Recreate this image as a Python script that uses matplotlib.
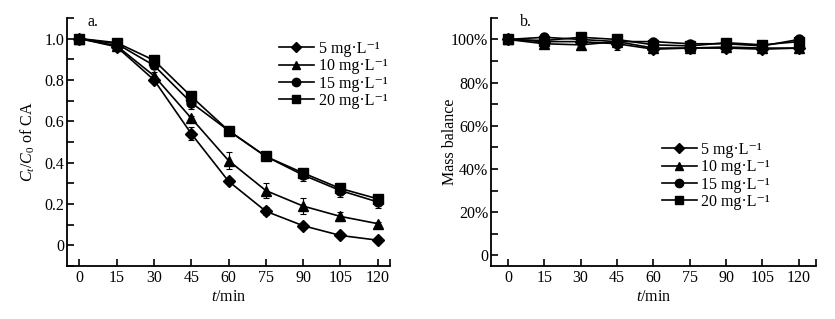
import matplotlib
matplotlib.use("Agg")
import matplotlib.pyplot as plt
from matplotlib.lines import Line2D

plt.rcParams['font.family'] = ['Liberation Serif', 'DejaVu Serif']
plt.rcParams['mathtext.fontset'] = 'custom'
plt.rcParams['mathtext.rm'] = 'Liberation Serif'
plt.rcParams['mathtext.it'] = 'Liberation Serif:italic'

t = [0, 15, 30, 45, 60, 75, 90, 105, 120]
labels = ["5 mg·L⁻¹", "10 mg·L⁻¹", "15 mg·L⁻¹", "20 mg·L⁻¹"]
markers = ['D', '^', 'o', 's']

# Panel a: Ct/C0
ca_5 = [1.0, 0.96, 0.80, 0.54, 0.31, 0.165, 0.095, 0.048, 0.025]
ca_10 = [1.0, 0.965, 0.82, 0.615, 0.41, 0.265, 0.19, 0.14, 0.105]
ca_15 = [1.0, 0.975, 0.87, 0.69, 0.555, 0.43, 0.34, 0.265, 0.21]
ca_20 = [1.0, 0.98, 0.895, 0.72, 0.555, 0.43, 0.35, 0.275, 0.225]
ca_err_5 = [0.005, 0.005, 0.01, 0.03, 0.01, 0.02, 0.01, 0.008, 0.008]
ca_err_10 = [0.005, 0.01, 0.02, 0.01, 0.04, 0.035, 0.04, 0.02, 0.01]
ca_err_15 = [0.005, 0.01, 0.015, 0.03, 0.01, 0.01, 0.03, 0.03, 0.03]
ca_err_20 = [0.005, 0.01, 0.01, 0.015, 0.01, 0.01, 0.02, 0.02, 0.02]

# Panel b: mass balance (%)
mb_5 = [100, 99, 99, 98, 95.5, 96, 96, 95.5, 96]
mb_10 = [100, 98, 97.5, 99, 96, 96, 96.5, 96, 96]
mb_15 = [100, 101, 100, 99, 99, 98, 98, 97, 100]
mb_20 = [100, 99.5, 101, 100, 97.5, 97, 98.5, 97.5, 99]
mb_err_5 = [0.5, 0.8, 1, 3, 0.8, 0.8, 0.8, 0.8, 0.8]
mb_err_10 = [0.5, 0.8, 2, 1, 0.8, 0.8, 0.8, 0.8, 0.8]
mb_err_15 = [0.5, 0.8, 1, 1, 0.8, 0.8, 0.8, 1, 0.8]
mb_err_20 = [0.5, 0.8, 1, 1, 0.8, 0.8, 0.8, 1, 0.8]

FS = 11.5

fig = plt.figure(figsize=(8.35, 3.19), dpi=100)
ax1 = fig.add_axes([0.0802, 0.166, 0.387, 0.778])
ax2 = fig.add_axes([0.588, 0.166, 0.389, 0.778])

def style(ax, xlim):
    ax.spines['top'].set_visible(False)
    ax.spines['right'].set_visible(False)
    for s in ['left', 'bottom']:
        ax.spines[s].set_linewidth(1.3)
    ax.set_xlim(*xlim)
    ax.set_xticks(t)
    ax.set_xticks([xlim[1]], minor=True)
    ax.tick_params(axis='x', direction='in', length=5, width=1.2, labelsize=FS, pad=3)
    ax.tick_params(axis='x', which='minor', direction='in', length=5, width=1.2)
    ax.tick_params(axis='y', direction='in', length=5, width=1.2, labelsize=FS, pad=2)
    ax.tick_params(axis='y', which='minor', direction='in', length=5, width=1.2)
    ax.set_xlabel('$t$/min', fontsize=FS, labelpad=2)

def legend_handles():
    return [Line2D([], [], color='black', marker=m, ms=5.5 if m == 'D' else 6, lw=1.2)
            for m in markers]

sets_a = [(ca_5, ca_err_5), (ca_10, ca_err_10), (ca_15, ca_err_15), (ca_20, ca_err_20)]
for (v, e), m in zip(sets_a, markers):
    ms = 6 if m == 'D' else 6.5
    ax1.errorbar(t, v, yerr=e, color='black', marker=m, ms=ms, lw=1.2,
                 capsize=2.5, elinewidth=0.8, capthick=0.8)
style(ax1, (-5, 125))
ax1.set_ylim(-0.1, 1.1)
ax1.set_yticks([0, 0.2, 0.4, 0.6, 0.8, 1.0])
ax1.set_yticklabels(['0', '0.2', '0.4', '0.6', '0.8', '1.0'])
ax1.set_yticks([-0.1, 0.1, 0.3, 0.5, 0.7, 0.9, 1.1], minor=True)
ax1.set_ylabel('$C_t/C_0$ of CA', fontsize=FS)
ax1.yaxis.set_label_coords(-0.092, 0.5)
ax1.text(0.062, 0.984, 'a.', transform=ax1.transAxes, fontsize=FS, va='center')
ax1.legend(legend_handles(), labels, loc='upper left', bbox_to_anchor=(0.655, 0.907),
           frameon=False, fontsize=FS, handlelength=2.2, handletextpad=0.3,
           labelspacing=0.08, borderaxespad=0.0, borderpad=0.0)

sets_b = [(mb_5, mb_err_5), (mb_10, mb_err_10), (mb_15, mb_err_15), (mb_20, mb_err_20)]
for (v, e), m in zip(sets_b, markers):
    ms = 6 if m == 'D' else 6.5
    ax2.errorbar(t, v, yerr=e, color='black', marker=m, ms=ms, lw=1.2,
                 capsize=2.5, elinewidth=0.8, capthick=0.8)
style(ax2, (-7, 127))
ax2.set_ylim(-5, 110)
ax2.set_yticks([0, 20, 40, 60, 80, 100])
ax2.set_yticklabels(['0', '20%', '40%', '60%', '80%', '100%'])
ax2.set_yticks([10, 30, 50, 70, 90, 110], minor=True)
ax2.set_ylabel('Mass balance', fontsize=FS)
ax2.yaxis.set_label_coords(-0.103, 0.5)
ax2.text(0.09, 0.984, 'b.', transform=ax2.transAxes, fontsize=FS, va='center')
ax2.legend(legend_handles(), labels, loc='upper left', bbox_to_anchor=(0.525, 0.5),
           frameon=False, fontsize=FS, handlelength=2.2, handletextpad=0.3,
           labelspacing=0.08, borderaxespad=0.0, borderpad=0.0)

fig.savefig('out.png', dpi=100)
